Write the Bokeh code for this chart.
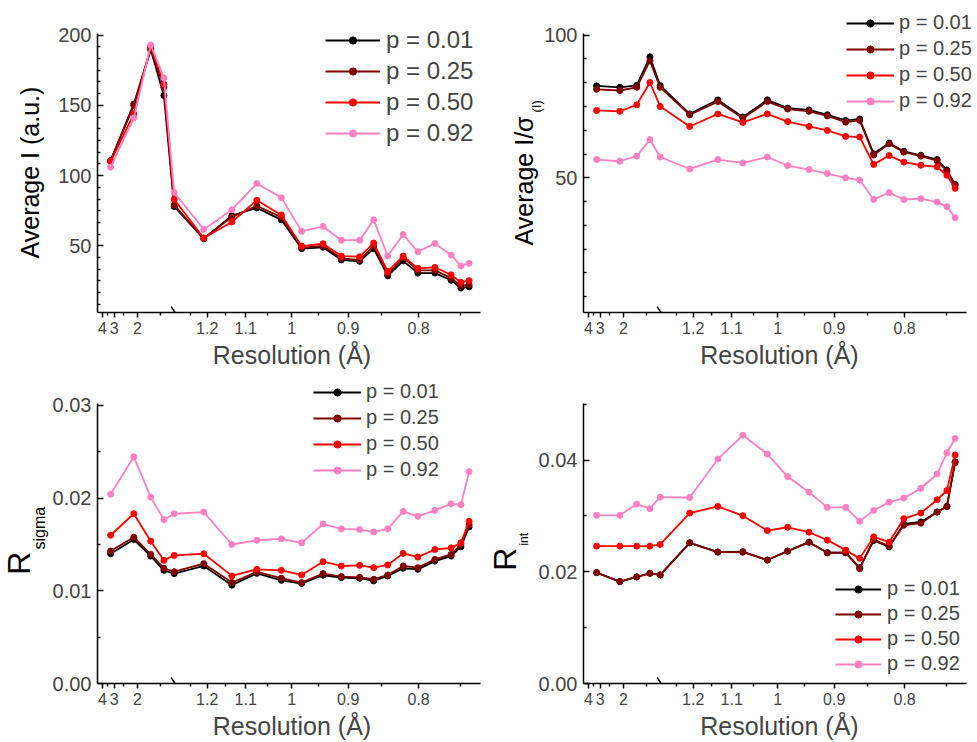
import math
from bokeh.plotting import figure
from bokeh.models import (Range1d, FixedTicker, CustomJSTickFormatter, Legend,
                          LegendItem, Title, Arrow)
from bokeh.layouts import column, row
from bokeh.embed import file_html
from bokeh.resources import INLINE

# ---------------- data ----------------
resolution = [3.25, 2.11, 1.68, 1.45, 1.31, 1.21, 1.134, 1.074, 1.021, 0.981, 0.942,
              0.911, 0.882, 0.861, 0.841, 0.820, 0.801, 0.780, 0.761, 0.750, 0.741]

series_labels = ["p = 0.01", "p = 0.25", "p = 0.50", "p = 0.92"]
series_colors = ["#000000", "#800000", "#FF0000", "#FF80C0"]

x_tick_values = [4, 3, 2, 1.2, 1.1, 1.0, 0.9, 0.8]
x_tick_labels = ["4", "3", "2", "1.2", "1.1", "1", "0.9", "0.8"]
x_minor_values = [3.5, 2.5, 1.5, 1.25, 1.15, 1.05, 0.95, 0.85, 0.75]

avg_i_p001 = [110.5, 151, 189.5, 157, 78, 55, 71.5, 77, 68.5, 48, 49, 40, 39, 48, 28.7, 39.3, 30.6, 30.6, 25.5, 20, 20.8]
avg_i_p025 = [110.7, 150, 190.6, 163, 79, 55.3, 70.5, 78.5, 70.3, 48.8, 50, 41, 40, 49.8, 30, 41.6, 32.5, 32.5, 27, 21.7, 22.4]
avg_i_p050 = [110, 144, 192, 165, 83, 55.6, 67, 82.5, 72, 49.8, 51.5, 42.7, 42.3, 52, 31.8, 42.7, 34, 34.6, 29.4, 24, 25.2]
avg_i_p092 = [106, 141, 193, 169.6, 88, 61.7, 75.7, 94.4, 84.3, 60.3, 63.8, 54, 54, 68.5, 42.8, 58, 45.8, 51.6, 43.5, 35.7, 37.6]

i_sig_p001 = [82.2, 81.7, 82.4, 92.4, 82.3, 72.4, 77.3, 71.3, 77.3, 74.4, 73.8, 72.1, 70.1, 70.6, 58.4, 62.2, 59.3, 57.9, 56.4, 52.7, 47.7]
i_sig_p025 = [81, 80.6, 81.7, 91, 81.7, 72.1, 76.7, 70.9, 76.7, 74.1, 73.3, 71.7, 69.5, 70.1, 58, 61.9, 59, 57.6, 56, 52.3, 47.3]
i_sig_p050 = [73.6, 73.3, 75.6, 83.4, 75, 68, 72.4, 69.4, 72.4, 69.7, 68, 66.6, 64.5, 64.3, 54.7, 57.8, 55.5, 54.4, 53.8, 50.9, 46.3]
i_sig_p092 = [56.4, 55.8, 57.6, 63.4, 57.3, 53.1, 56.4, 55.2, 57.3, 54.3, 52.9, 51.5, 50, 49.2, 42.4, 44.8, 42.4, 42.7, 41.5, 39.9, 36]

r_sigma_p001 = [0.0140, 0.01554, 0.01375, 0.01221, 0.01186, 0.01268, 0.01061, 0.01189, 0.01114, 0.01079, 0.01168,
                0.01143, 0.01136, 0.01107, 0.01161, 0.01243, 0.01232, 0.01321, 0.01375, 0.01475, 0.01689]
r_sigma_p025 = [0.01429, 0.01579, 0.01393, 0.01243, 0.01207, 0.01293, 0.01089, 0.01204, 0.01136, 0.01089, 0.01186,
                0.01154, 0.01146, 0.01125, 0.01171, 0.01268, 0.0125, 0.01339, 0.01393, 0.0150, 0.01714]
r_sigma_p050 = [0.0160, 0.01832, 0.01536, 0.01329, 0.01382, 0.0140, 0.01161, 0.01232, 0.01221, 0.01171, 0.01314,
                0.01268, 0.01275, 0.0125, 0.01279, 0.01404, 0.01364, 0.01446, 0.01464, 0.01518, 0.0175]
r_sigma_p092 = [0.02043, 0.02446, 0.02011, 0.01768, 0.01832, 0.0185, 0.0150, 0.01546, 0.01561, 0.01518, 0.01721,
                0.01668, 0.01661, 0.01636, 0.01668, 0.01857, 0.01804, 0.01868, 0.01939, 0.01929, 0.02286]

r_int_p001 = [0.01985, 0.01825, 0.01908, 0.01973, 0.01944, 0.02519, 0.02353, 0.02359, 0.0221, 0.0237, 0.0253,
              0.02341, 0.02341, 0.02074, 0.0256, 0.02447, 0.02856, 0.02892, 0.0307, 0.0317, 0.0397]
r_int_p025 = [0.01985, 0.01825, 0.01908, 0.01973, 0.01944, 0.02519, 0.02353, 0.0235, 0.0221, 0.0237, 0.0253,
              0.02341, 0.02341, 0.02056, 0.02578, 0.02459, 0.02833, 0.0287, 0.0307, 0.0317, 0.03953]
r_int_p050 = [0.02459, 0.02459, 0.02459, 0.02459, 0.02489, 0.03052, 0.0317, 0.03004, 0.02738, 0.02797, 0.02708,
              0.02566, 0.02388, 0.0224, 0.02625, 0.0253, 0.02951, 0.03052, 0.03289, 0.03455, 0.04089]
r_int_p092 = [0.0301, 0.0301, 0.03212, 0.03129, 0.03336, 0.0333, 0.04018, 0.04444, 0.04107, 0.03704, 0.03425,
              0.03153, 0.03153, 0.02904, 0.03099, 0.03247, 0.03319, 0.03496, 0.03751, 0.0413, 0.04385]

# ---------------- broken 1/d axis ----------------
BREAK = 0.77      # 1/d where the scale changes
SHRINK = 0.275    # scale factor of the low-resolution segment


def xpos(d):
    s = 1.0 / d
    return s if s >= BREAK else BREAK - (BREAK - s) * SHRINK


x_data = [xpos(d) for d in resolution]
x_major = [xpos(d) for d in x_tick_values]
x_minor = [xpos(d) for d in x_minor_values]

FONT = "Liberation Sans"
X_AXIS = (0.617, 1.372)
X_PPU = 507.3      # px per x unit
H = 371


def make_panel(series, y_axis, axis_top_px, frame_top, border_lbr, width,
               y_ticks, y_minor, y_fmt, legend_loc, legend_font, legend_glyph_w,
               legend_spacing, legend_standoff):
    left, bottom = border_lbr
    right = 2
    frame_w = width - left - right
    x_end = X_AXIS[0] + frame_w / X_PPU
    frame_bottom = H - bottom
    ppu = (frame_bottom - axis_top_px) / (y_axis[1] - y_axis[0])
    y_end = y_axis[1] + (axis_top_px - frame_top) / ppu

    p = figure(width=width, height=H, output_backend="svg", toolbar_location=None,
               x_range=Range1d(X_AXIS[0], x_end), y_range=Range1d(y_axis[0], y_end),
               min_border_left=left, min_border_right=right,
               min_border_top=frame_top, min_border_bottom=bottom)
    p.outline_line_color = None
    p.xgrid.visible = False
    p.ygrid.visible = False

    xa = p.xaxis[0]
    xa.bounds = X_AXIS
    xa.ticker = FixedTicker(ticks=x_major, minor_ticks=x_minor)
    xa.formatter = CustomJSTickFormatter(
        args=dict(pos=x_major, labels=x_tick_labels),
        code="const i = pos.findIndex(v => Math.abs(v - tick) < 1e-6); return i >= 0 ? labels[i] : '';")
    xa.axis_label = "Resolution (Å)"
    xa.axis_label_text_font = FONT
    xa.axis_label_text_font_size = "25px"
    xa.axis_label_text_font_style = "normal"
    xa.axis_label_standoff = 4
    xa.major_label_text_font = FONT
    xa.major_label_text_font_size = "16px"
    xa.major_label_standoff = 4
    xa.major_tick_in = 0
    xa.major_tick_out = 5
    xa.minor_tick_in = 0
    xa.minor_tick_out = 3

    ya = p.yaxis[0]
    ya.bounds = y_axis
    ya.ticker = FixedTicker(ticks=y_ticks, minor_ticks=y_minor)
    ya.formatter = CustomJSTickFormatter(args=dict(fmt=y_fmt),
                                         code="return tick.toFixed(fmt);")
    ya.major_label_text_font = FONT
    ya.major_label_text_font_size = "20px"
    ya.major_label_standoff = 6
    ya.major_tick_in = 6
    ya.major_tick_out = 0
    ya.minor_tick_in = 3
    ya.minor_tick_out = 0

    for a in (xa, ya):
        a.axis_line_width = 1.5
        a.major_tick_line_width = 1.5
        a.minor_tick_line_width = 1.5

    items = []
    for lab, col, ys in zip(series_labels, series_colors, series):
        lr = p.line(x_data, ys, line_color=col, line_width=1.8)
        sr = p.scatter(x_data, ys, size=6, fill_color=col, line_color=col)
        items.append(LegendItem(label=lab, renderers=[lr, sr]))
    leg = Legend(items=items, location=legend_loc, orientation="vertical",
                 label_text_font=FONT, label_text_font_size=legend_font,
                 glyph_width=legend_glyph_w, glyph_height=18, label_height=18,
                 label_standoff=legend_standoff, spacing=legend_spacing, padding=0, margin=0,
                 background_fill_alpha=0, border_line_color=None)
    p.add_layout(leg, "center")

    # axis break mark
    dy = 6.0 / ppu
    dx = 4.0 / X_PPU
    p.add_layout(Arrow(end=None, x_start=BREAK - dx, y_start=y_axis[0] + dy,
                       x_end=BREAK + dx, y_end=y_axis[0] - dy,
                       line_color="black", line_width=1.5))
    geo = dict(frame_top=frame_top, frame_bottom=frame_bottom, ppu=ppu, y0=y_axis[0])
    return p, geo


def add_ytitle(p, text, size, align, offset, standoff):
    p.add_layout(Title(text=text, align=align, offset=offset, standoff=standoff,
                       text_font=FONT, text_font_size=size, text_font_style="normal",
                       text_color="black"), "left")


def split_label(p, geo, main, main_size, sub, sub_size, y_join, st_sub, st_main):
    jpx = geo["frame_bottom"] - (y_join - geo["y0"]) * geo["ppu"]
    add_ytitle(p, sub, sub_size, "left", geo["frame_bottom"] - jpx, st_sub)
    add_ytitle(p, main, main_size, "right", jpx - geo["frame_top"], st_main)


minor_50 = [k * 50 / 6 for k in range(1, 25) if k % 6]

ROW1_TOP, ROW1_BOTTOM = 4, 55
ROW2_TOP, ROW2_BOTTOM = 8, 57

p1, g1 = make_panel([avg_i_p001, avg_i_p025, avg_i_p050, avg_i_p092], (2.55, 201.2), 33.3, ROW1_TOP,
                    (97, ROW1_BOTTOM), 488, [50, 100, 150, 200], minor_50, 0, (228, 165),
                    "24px", 55, 3, 6)
add_ytitle(p1, "Average I (a.u.)", "25px", "left", 54, 24)

p2, g2 = make_panel([i_sig_p001, i_sig_p025, i_sig_p050, i_sig_p092], (2.8, 100.6), 33.3, ROW1_TOP,
                    (95, ROW1_BOTTOM), 489, [50, 100], [v for v in minor_50 if v <= 100], 0, (263, 200),
                    "20px", 48, 3, 5)
split_label(p2, g2, "Average I/σ", "25px", "(I)", "13px", 72.0, -5, -16)

p3, g3 = make_panel([r_sigma_p001, r_sigma_p025, r_sigma_p050, r_sigma_p092], (0.0, 0.0302), 32.3, ROW2_TOP,
                    (97, ROW2_BOTTOM), 488, [0.0, 0.01, 0.02, 0.03], [0.005, 0.015, 0.025], 2, (216, 202),
                    "20px", 48, 3, 5)
split_label(p3, g3, "R", "32px", "sigma", "16px", 0.01436, 3, -18)

p4, g4 = make_panel([r_int_p001, r_int_p025, r_int_p050, r_int_p092], (0.0, 0.0501), 32.3, ROW2_TOP,
                    (95, ROW2_BOTTOM), 489, [0.0, 0.02, 0.04], [0.01, 0.03, 0.05], 2, (252, 8),
                    "20px", 46, 2, 6)
split_label(p4, g4, "R", "32px", "int", "12px", 0.02453, 10, -27)

layout = column(row(p1, p2), row(p3, p4))
open("out.html", "w").write(file_html(layout, INLINE))
